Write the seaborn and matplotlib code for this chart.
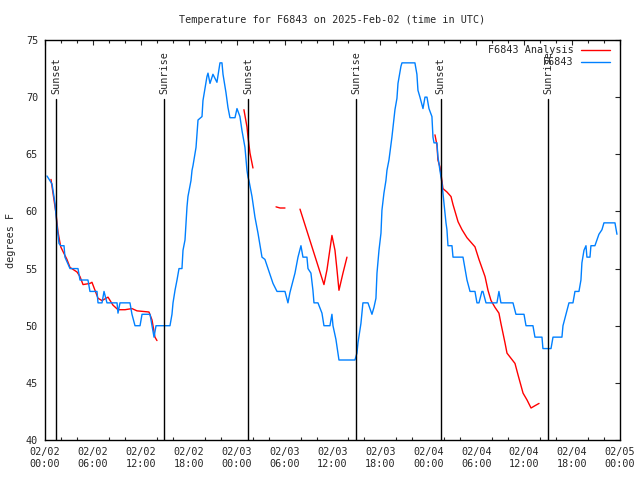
import numpy as np
import pandas as pd
import matplotlib
matplotlib.use("Agg")
import matplotlib.pyplot as plt
import matplotlib.dates as mdates
import seaborn as sns

# Station observations (hours after 2025-02-02 00:00 UTC, degrees F)
obs_hours = [0.25, 0.88, 1.25, 1.47, 1.75, 1.97, 2.38, 2.50, 3.13, 4.13, 4.38, 5.38,
             5.63, 6.51, 6.64, 7.14, 7.39, 7.76, 9.02, 9.14, 9.39, 10.64, 10.89, 11.27,
             11.90, 12.15, 13.15, 13.40, 13.65, 13.90, 15.65, 15.90, 16.03, 16.28, 16.53,
             16.78, 17.15, 17.28, 17.53, 17.78, 17.90, 18.28, 18.41, 18.53, 18.91, 19.16,
             19.66, 19.78, 20.28, 20.41, 20.66, 21.03, 21.53, 21.91, 22.16, 22.29, 22.66,
             22.91, 23.16, 23.79, 24.04, 24.41, 24.66, 25.04, 25.29, 25.42, 25.54, 25.92,
             26.29, 26.67, 27.17, 27.54, 27.92, 28.55, 29.05, 30.05, 30.42, 30.67, 31.30,
             31.68, 32.05, 32.30, 32.80, 32.93, 33.30, 33.55, 33.68, 34.18, 34.68, 34.93,
             35.68, 35.93, 36.06, 36.43, 36.81, 38.81, 39.06, 39.19, 39.56, 39.81, 40.44,
             40.94, 41.19, 41.44, 41.57, 41.82, 42.07, 42.19, 42.44, 42.69, 42.82, 43.07,
             43.44, 43.82, 44.07, 44.20, 44.57, 44.70, 46.32, 46.57, 46.70, 46.95, 47.33,
             47.58, 47.83, 48.08, 48.45, 48.58, 48.71, 49.08, 49.20, 49.45, 49.70, 49.83,
             49.95, 50.21, 50.33, 50.46, 50.96, 51.09, 52.34, 52.59, 52.84, 53.22, 53.84,
             54.09, 54.34, 54.71, 54.84, 55.22, 56.59, 56.84, 57.09, 58.60, 58.97, 59.98,
             60.23, 61.10, 61.35, 62.23, 62.35, 63.36, 63.61, 64.73, 64.86, 65.23, 65.61,
             66.11, 66.36, 66.86, 67.11, 67.23, 67.49, 67.74, 67.86, 68.24, 68.36, 68.86,
             69.11, 69.36, 69.74, 69.99, 71.37, 71.62]
obs_temps = [63.1, 62.4, 60.7, 59.0, 57.2, 57.0, 57.0, 56.0, 55.0, 55.0, 54.0, 54.0,
             53.0, 53.0, 52.0, 52.0, 53.0, 52.0, 52.0, 51.1, 52.0, 52.0, 51.0, 50.0,
             50.0, 51.0, 51.0, 50.0, 49.0, 50.0, 50.0, 51.0, 52.0, 53.1, 54.0,
             55.0, 55.0, 56.6, 57.5, 60.4, 61.3, 62.7, 63.6, 64.0, 65.6, 68.0,
             68.3, 69.7, 71.8, 72.1, 71.2, 72.0, 71.3, 73.0, 73.0, 72.0, 70.4,
             69.1, 68.2, 68.2, 69.0, 68.3, 67.1, 65.6, 63.6, 63.0, 62.7, 61.3,
             59.5, 58.1, 56.0, 55.8, 55.0, 53.7, 53.0, 53.0, 52.0, 52.9, 54.6,
             56.0, 57.0, 56.0, 56.0, 55.0, 54.6, 53.1, 52.0, 52.0, 51.1, 50.0,
             50.0, 51.0, 50.0, 48.8, 47.0, 47.0, 47.6, 48.5, 50.2, 52.0, 52.0,
             51.0, 51.6, 52.4, 54.6, 56.6, 58.1, 60.1, 61.6, 62.7, 63.6, 64.5,
             66.5, 68.9, 69.9, 71.2, 72.7, 73.0, 73.0, 72.0, 70.6, 70.0, 69.0,
             70.0, 70.0, 69.0, 68.3, 66.5, 66.0, 66.0, 64.8, 63.6, 62.5, 61.6,
             60.7, 59.0, 58.4, 57.0, 57.0, 56.0, 56.0, 55.0, 54.0, 53.0, 53.0,
             52.0, 52.0, 53.0, 53.0, 52.0, 52.0, 53.0, 52.0, 52.0, 51.0, 51.0,
             50.0, 50.0, 49.0, 49.0, 48.0, 48.0, 49.0, 49.0, 50.0, 51.0, 52.0,
             52.0, 53.0, 53.0, 54.0, 55.5, 56.6, 57.0, 56.0, 56.0, 57.0, 57.0,
             57.5, 58.0, 58.4, 59.0, 59.0, 58.0]

# Analysis (comes in separate pieces with gaps)
ana_hours = [0.75, 1.38, 1.63, 1.97, 2.25, 2.75, 3.13, 4.01, 4.38, 4.76, 5.63, 5.88,
             6.26, 6.64, 7.14, 7.89, 8.51, 9.14, 10.02, 10.89, 11.52, 13.02, 13.40,
             13.77, 14.02,
             24.91, 25.29, 25.42, 25.67, 26.04,
             28.93, 29.43, 30.05,
             31.93, 34.93, 35.31, 35.93, 36.31, 36.56, 36.81, 37.31, 37.81,
             48.83, 49.08, 49.20, 49.45, 49.70, 49.83, 50.33, 50.84, 51.09, 51.72,
             52.22, 52.84, 53.84, 54.34, 55.10, 55.47, 55.85, 56.35, 56.84, 57.09,
             57.60, 57.85, 58.85, 59.23, 59.86, 60.36, 60.86, 61.35, 61.86]
ana_temps = [62.8, 59.8, 58.2, 56.9, 56.5, 55.8, 55.1, 54.7, 54.3, 53.6, 53.7, 53.8,
             53.1, 52.4, 52.2, 52.5, 51.8, 51.4, 51.4, 51.5, 51.3, 51.2, 50.5,
             49.0, 48.7,
             68.9, 67.4, 66.5, 65.1, 63.8,
             60.4, 60.3, 60.3,
             60.2, 53.6, 54.9, 57.9, 56.6, 54.9, 53.1, 54.6, 56.0,
             66.7, 65.8, 64.5, 63.9, 62.7, 62.0, 61.7, 61.3, 60.6, 59.1,
             58.4, 57.7, 56.9, 55.8, 54.3, 53.1, 52.2, 51.6, 51.1, 50.2,
             48.5, 47.6, 46.7, 45.7, 44.1, 43.5, 42.8, 43.0, 43.2]
ana_piece = [1] * 25 + [2] * 5 + [3] * 3 + [4] * 9 + [5] * 29

# Sunrise / sunset markers
sun_hours = [1.38, 14.95, 25.45, 39.0, 49.55, 63.0]
sun_labels = ["Sunset", "Sunrise", "Sunset", "Sunrise", "Sunset", "Sunrise"]

start = pd.Timestamp("2025-02-02 00:00")
end = pd.Timestamp("2025-02-05 00:00")

obs = pd.DataFrame({"time": start + pd.to_timedelta(obs_hours, unit="h"),
                    "temp": obs_temps, "series": "F6843", "piece": 0})
ana = pd.DataFrame({"time": start + pd.to_timedelta(ana_hours, unit="h"),
                    "temp": ana_temps, "series": "F6843 Analysis", "piece": ana_piece})
df = pd.concat([ana, obs], ignore_index=True)

sns.set_style("white")
plt.rcParams["font.family"] = ["DejaVu Sans Mono", "DejaVu Sans"]
plt.rcParams["font.size"] = 7.3

fig = plt.figure(figsize=(6.4, 4.8), dpi=100)
ax = fig.add_axes([45 / 640, 40 / 480, 575 / 640, 400 / 480])

sns.lineplot(data=df, x="time", y="temp", hue="series", units="piece",
             estimator=None, hue_order=["F6843 Analysis", "F6843"],
             palette={"F6843 Analysis": "#ff0000", "F6843": "#0080ff"},
             linewidth=1.0, ax=ax)

# sun lines with rotated labels
for h, lab in zip(sun_hours, sun_labels):
    t = start + pd.Timedelta(hours=h)
    ax.plot([t, t], [69.8, 40], color="black", linewidth=1.0)
    ax.text(t, 70.3, lab, rotation=90, ha="center", va="bottom", fontsize=7.3)

ax.set_xlim(start, end)
ax.set_ylim(40, 75)
ax.set_yticks(np.arange(40, 76, 5))
ax.xaxis.set_major_locator(mdates.HourLocator(byhour=[0, 6, 12, 18]))
ax.xaxis.set_minor_locator(mdates.HourLocator(interval=2))
ax.xaxis.set_major_formatter(mdates.DateFormatter("%m/%d\n%H:%M"))
ax.tick_params(which="major", direction="in", length=3.4, width=0.8,
               top=True, right=True, pad=5, labelsize=7.3)
ax.tick_params(which="minor", direction="in", length=2.4, width=0.8,
               top=True, bottom=True)
for s in ax.spines.values():
    s.set_color("black")
    s.set_linewidth(1.0)

ax.set_xlabel("")
ax.set_ylabel("degrees F", fontsize=7.3, labelpad=7)
ax.set_title("Temperature for F6843 on 2025-Feb-02 (time in UTC)", fontsize=7.3, pad=12)

leg = ax.legend(loc="upper right", bbox_to_anchor=(1 - 5 / 575, 1), frameon=False,
                markerfirst=False, handlelength=2.9, handletextpad=0.7,
                labelspacing=0.2, borderaxespad=0.3, borderpad=0.2, fontsize=7.3)

fig.savefig("out.png", dpi=100)
